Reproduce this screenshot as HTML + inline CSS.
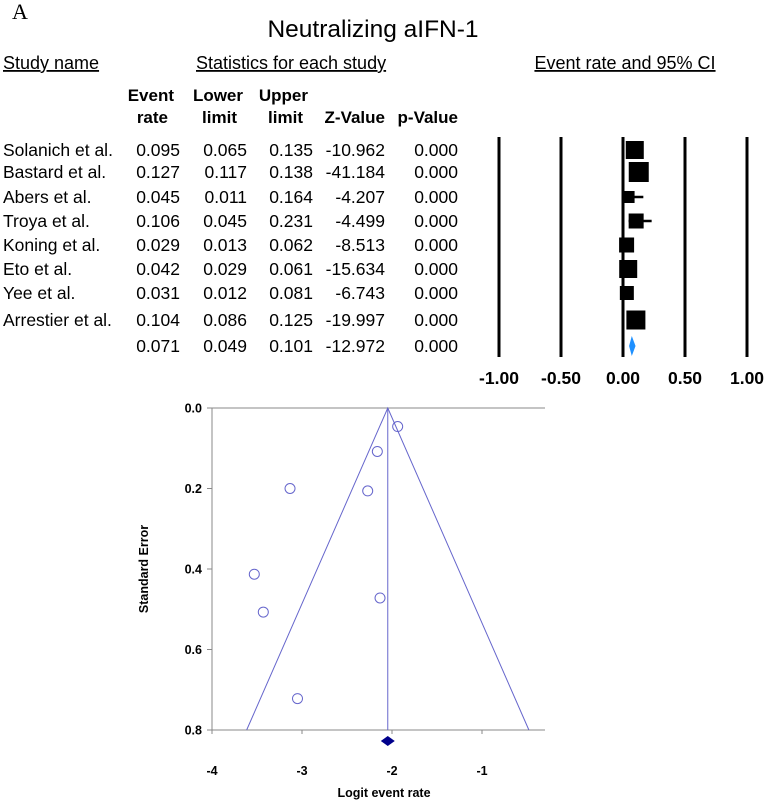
<!DOCTYPE html>
<html><head><meta charset="utf-8"><style>
body{margin:0;background:#fff;}
svg{display:block;}
.t{font-family:"Liberation Sans",Arial,sans-serif;}
</style></head><body>
<svg width="765" height="800" xmlns="http://www.w3.org/2000/svg">
<text x="12" y="19" font-family="Liberation Serif,serif" font-size="22">A</text>
<text class="t" x="373" y="37" font-size="24.5" text-anchor="middle">Neutralizing aIFN-1</text>
<g class="t" font-size="18">
<text x="3" y="69" text-decoration="underline">Study name</text>
<text x="196" y="69" text-decoration="underline">Statistics for each study</text>
<text x="625" y="69" text-anchor="middle" text-decoration="underline">Event rate and 95% CI</text>
<g font-weight="bold" text-anchor="end" font-size="17">
<text x="174" y="101">Event</text><text x="168" y="123">rate</text>
<text x="243" y="101">Lower</text><text x="237" y="123">limit</text>
<text x="308" y="101">Upper</text><text x="303" y="123">limit</text>
<text x="385" y="123">Z-Value</text><text x="458" y="123">p-Value</text>
</g></g>
<g id="table" class="t" font-size="17.5"></g>
<g id="forest"></g>
<g id="funnel"></g>
</svg>
<script>
const studies=["Solanich et al.","Bastard et al.","Abers et al.","Troya et al.","Koning et al.","Eto et al.","Yee et al.","Arrestier et al."];
const rates=[0.095,0.127,0.045,0.106,0.029,0.042,0.031,0.104];
const lowers=[0.065,0.117,0.011,0.045,0.013,0.029,0.012,0.086];
const uppers=[0.135,0.138,0.164,0.231,0.062,0.061,0.081,0.125];
const zvals=["-10.962","-41.184","-4.207","-4.499","-8.513","-15.634","-6.743","-19.997"];
const pvals=["0.000","0.000","0.000","0.000","0.000","0.000","0.000","0.000"];
const weights=[18,20,12,15,15,18,14,19];
const pooled=[0.071,0.049,0.101,"-12.972","0.000"];
const forestTicks=[-1,-0.5,0,0.5,1];
const forestTickLabels=["-1.00","-0.50","0.00","0.50","1.00"];
const funnelX=[-1.937,-2.163,-3.133,-2.27,-3.53,-2.133,-3.43,-3.05];
const funnelSE=[0.046,0.108,0.2,0.206,0.413,0.472,0.507,0.722];
const funnelCenter=-2.047;
const funnelXTicks=[-4,-3,-2,-1];
const funnelYTicks=[0,0.2,0.4,0.6,0.8];
const NS="http://www.w3.org/2000/svg";
function mk(tag,attrs,parent,txt){const e=document.createElementNS(NS,tag);for(const k in attrs)e.setAttribute(k,attrs[k]);if(txt!==undefined)e.textContent=txt;parent.appendChild(e);return e;}
const rowY=i=>150+[0,22,47,71,95,119,143,170,196][i];
const tb=document.getElementById('table');
const cols=[180,247,313,385,458];
for(let i=0;i<=studies.length;i++){
  const y=rowY(i)+6;
  const vals=i<studies.length?[rates[i].toFixed(3),lowers[i].toFixed(3),uppers[i].toFixed(3),zvals[i],pvals[i]]:[pooled[0].toFixed(3),pooled[1].toFixed(3),pooled[2].toFixed(3),pooled[3],pooled[4]];
  if(i<studies.length){const t=mk('text',{x:3,y:y},tb,studies[i]);
  
  }
  vals.forEach((v,j)=>{const t=mk('text',{x:cols[j],y:y,'text-anchor':'end'},tb,v);
  
  });
}
const fx=v=>623+v*124;
const fg=document.getElementById('forest');
forestTicks.forEach((v,i)=>{
  const l=mk('line',{x1:fx(v),x2:fx(v),y1:137,y2:357,stroke:'#000','stroke-width':3},fg);
  
  
  const t=mk('text',{x:fx(v),y:384,'text-anchor':'middle','font-family':'Liberation Sans,Arial,sans-serif','font-size':17.5,'font-weight':'bold'},fg,forestTickLabels[i]);
  
  
});
rates.forEach((r,i)=>{
  const y=rowY(i);
  const l=mk('line',{x1:fx(lowers[i]),x2:fx(uppers[i]),y1:y,y2:y,stroke:'#000','stroke-width':2.5},fg);
  
  
  const s=weights[i];
  const b=mk('rect',{x:fx(r)-s/2,y:y-s/2,width:s,height:s,fill:'#000'},fg);
  
  
});
{const y=rowY(8);const d=mk('polygon',{points:`${fx(pooled[1])},${y} ${fx(pooled[0])},${y-10} ${fx(pooled[2])},${y} ${fx(pooled[0])},${y+10}`,fill:'#1e90ff'},fg);

}
const gx=v=>212+(v+4)*90, gy=v=>408+v*402.5;
const gg=document.getElementById('funnel');
const blue='#6666cc';
const F='Liberation Sans,Arial,sans-serif';
mk('line',{x1:212,x2:212,y1:408,y2:730,stroke:'#888'},gg);
mk('line',{x1:212,x2:545,y1:408,y2:408,stroke:'#888'},gg);
mk('line',{x1:212,x2:545,y1:730,y2:730,stroke:'#888'},gg);
funnelYTicks.forEach(v=>{
  mk('line',{x1:207,x2:212,y1:gy(v),y2:gy(v),stroke:'#888'},gg);
  const t=mk('text',{x:202,y:gy(v)+4.5,'text-anchor':'end','font-family':F,'font-size':12.5,'font-weight':'bold'},gg,v.toFixed(1));
  
  
});
funnelXTicks.forEach(v=>{
  mk('line',{x1:gx(v),x2:gx(v),y1:730,y2:734,stroke:'#888'},gg);
  const t=mk('text',{x:gx(v),y:775,'text-anchor':'middle','font-family':F,'font-size':12.5,'font-weight':'bold'},gg,String(v));
  
  
});
const se=0.8;
mk('polyline',{points:`${gx(funnelCenter-1.96*se)},${gy(se)} ${gx(funnelCenter)},${gy(0)} ${gx(funnelCenter+1.96*se)},${gy(se)}`,fill:'none',stroke:blue},gg);
mk('line',{x1:gx(funnelCenter),x2:gx(funnelCenter),y1:gy(0),y2:gy(se),stroke:blue},gg);
funnelX.forEach((v,i)=>{
  const c=mk('circle',{cx:gx(v),cy:gy(funnelSE[i]),r:5,fill:'none',stroke:blue},gg);
  
  
});
{const cx=gx(funnelCenter);const d=mk('polygon',{points:`${cx-7},741 ${cx},736 ${cx+7},741 ${cx},746`,fill:'#00008b'},gg);

}
{const t=mk('text',{x:384,y:797,'text-anchor':'middle','font-family':F,'font-size':12.5,'font-weight':'bold'},gg,'Logit event rate');

}
{const t=mk('text',{x:0,y:0,transform:'translate(148,569) rotate(-90)','text-anchor':'middle','font-family':F,'font-size':12.5,'font-weight':'bold'},gg,'Standard Error');

}
</script>
</body></html>
